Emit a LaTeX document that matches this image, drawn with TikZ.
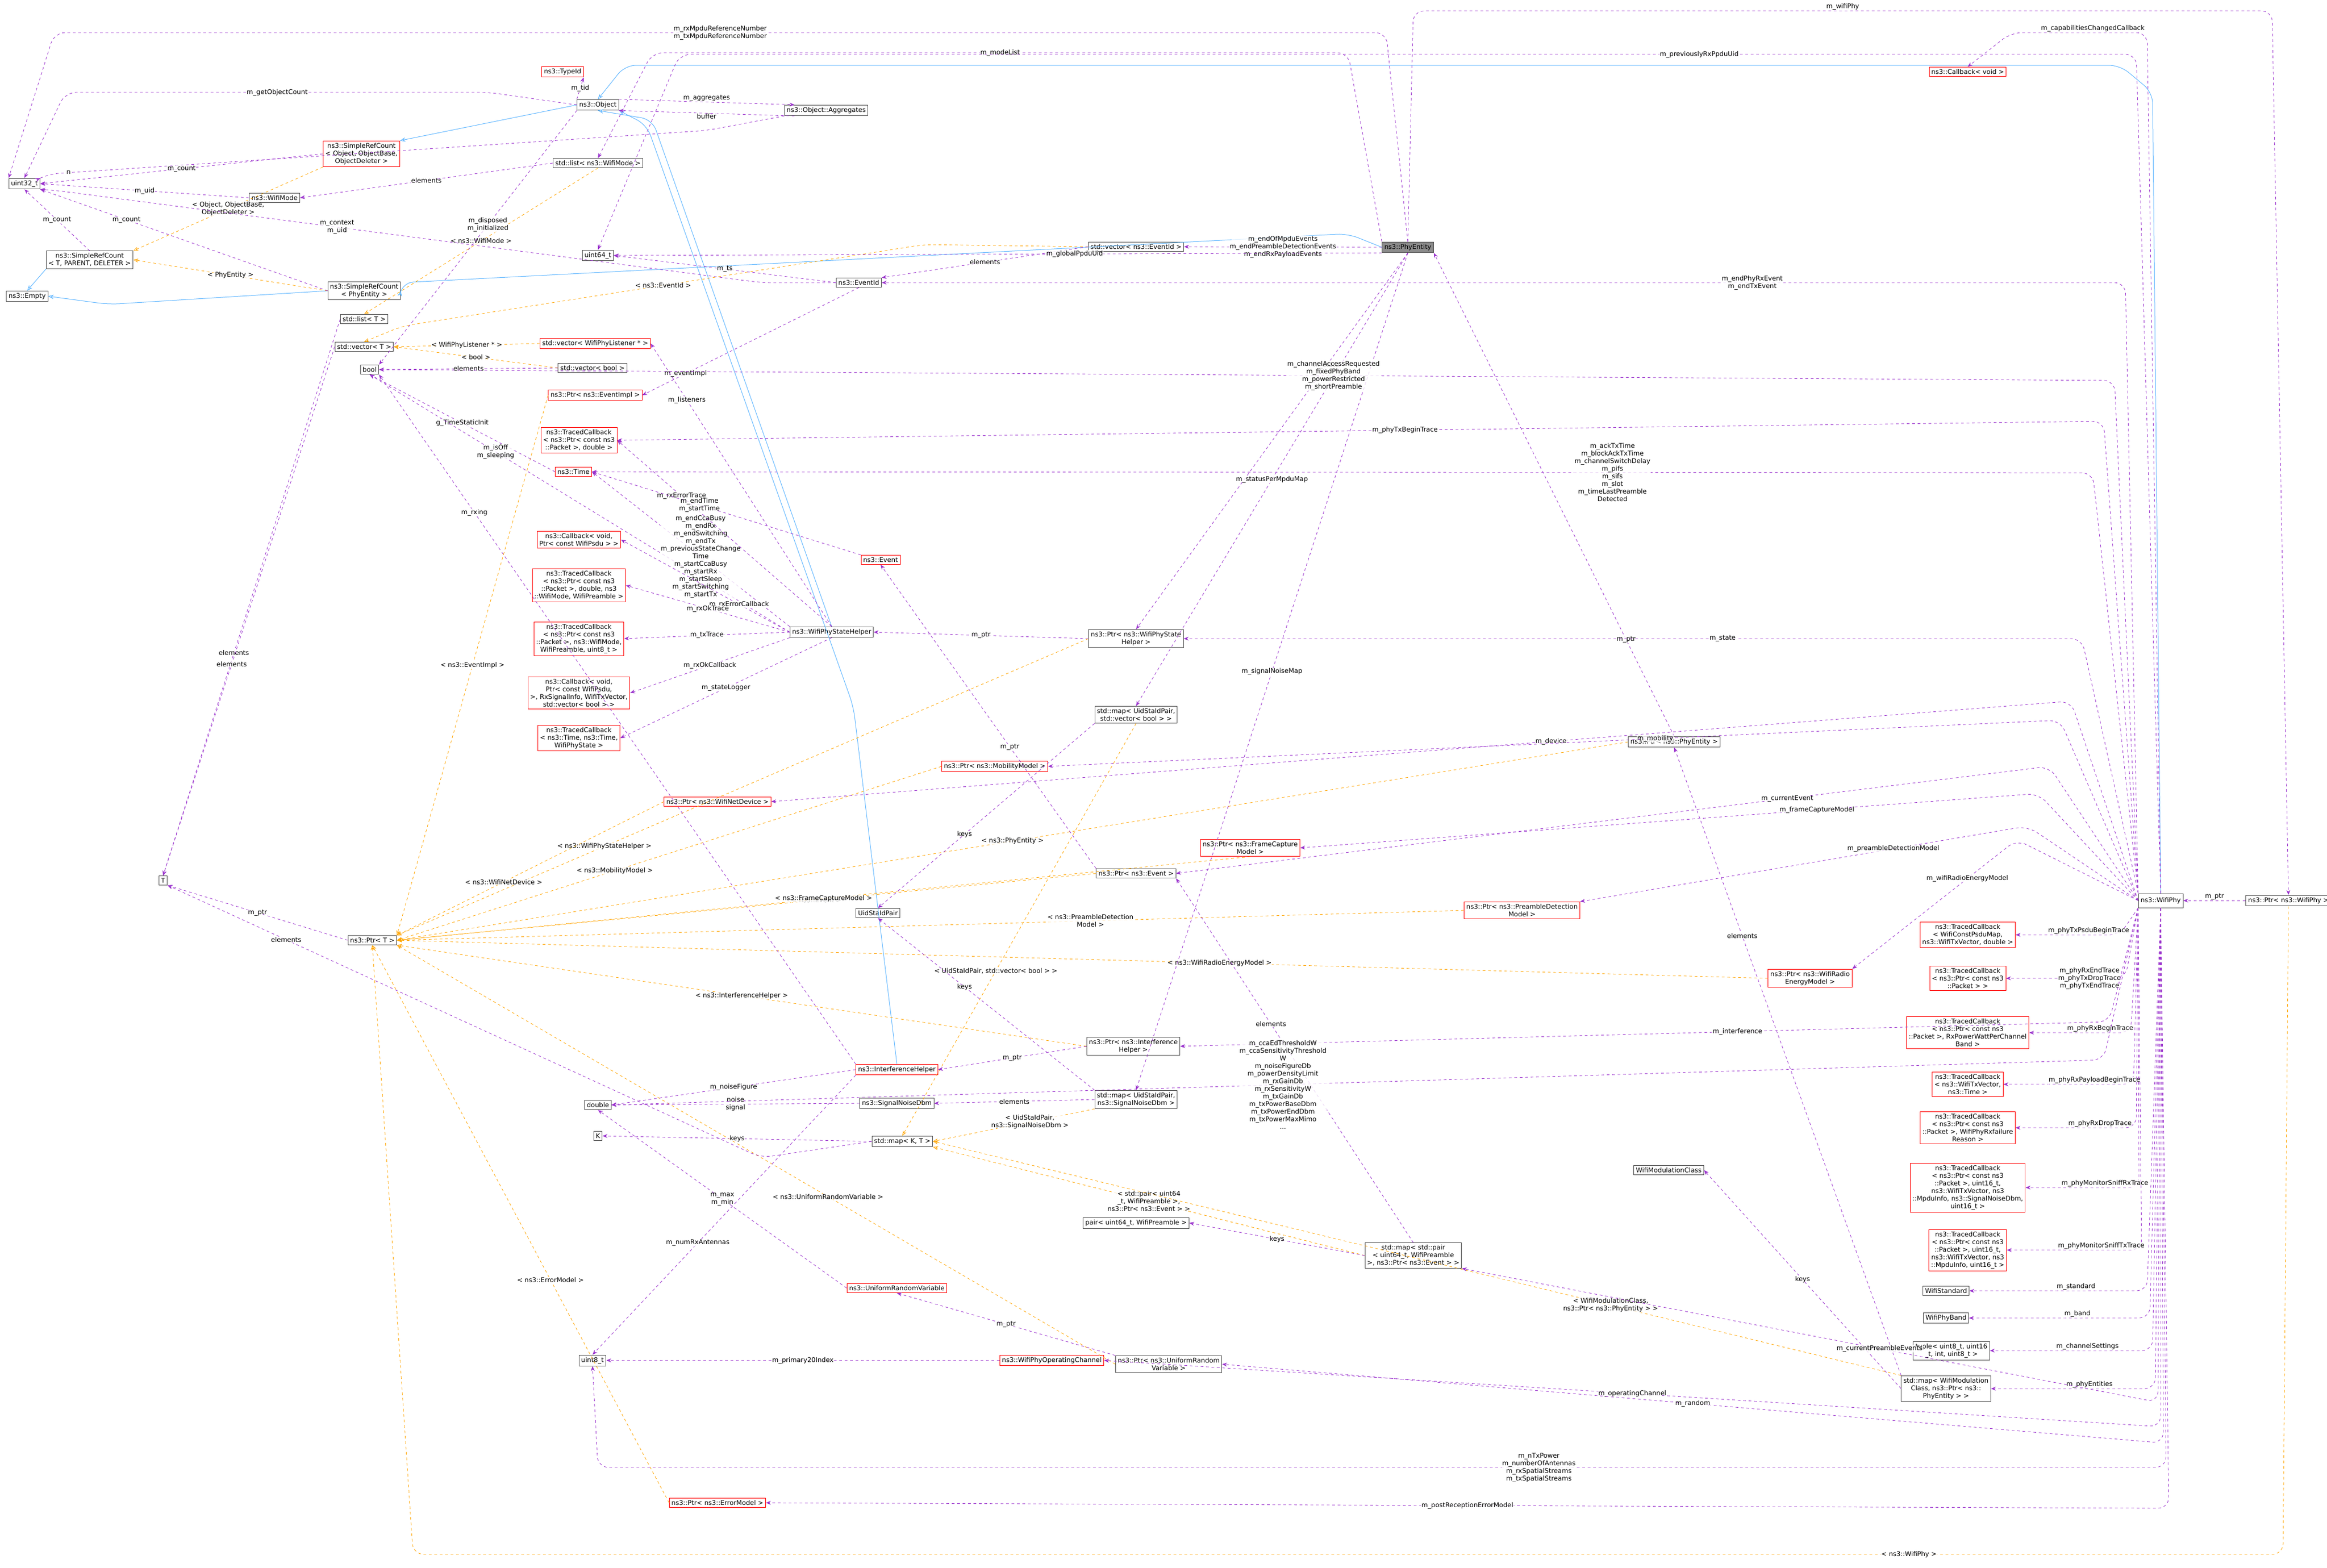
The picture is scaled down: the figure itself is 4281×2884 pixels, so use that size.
\documentclass[tikz,border=0pt]{standalone}
\usepackage{fontspec}
\setmainfont{DejaVu Sans}
\usetikzlibrary{arrows.meta}
\definecolor{rel}{HTML}{9A32CD}
\definecolor{tpl}{HTML}{FFA500}
\definecolor{inh}{HTML}{63B8FF}
\tikzset{
 box/.style={draw=black!70,fill=white,inner sep=1.2pt,line width=0.3pt,align=center,font=\fontsize{3.6}{4.2}\selectfont},
 rbox/.style={box,draw=red},
 root/.style={box,fill=black!45},
 rl/.style={draw=rel,dash pattern=on 1.5pt off 1.5pt,-{Stealth[length=2.7pt,width=2.1pt]},line width=0.25pt,rounded corners=6pt},
 tp/.style={draw=tpl,dash pattern=on 1.5pt off 1.5pt,-{Stealth[length=2.7pt,width=2.1pt,open]},line width=0.25pt,rounded corners=6pt},
 ih/.style={draw=inh,-{Stealth[length=3pt,width=2.4pt,open]},line width=0.3pt,rounded corners=6pt},
 lb/.style={font=\fontsize{3.6}{4.2}\selectfont,align=center,fill=white,fill opacity=0.8,text opacity=1,inner sep=0.3pt}
}
\begin{document}
\begin{tikzpicture}[x=0.3pt,y=-0.3pt]
\useasboundingbox[fill=white] (0,0) rectangle (4281,2884);
% nodes
\node[rbox] (typeid) at (1035,132) {ns3::TypeId};
\node[box] (object) at (1100,193) {ns3::Object};
\node[box] (aggr) at (1520,203) {ns3::Object::Aggregates};
\node[box] (u32) at (45,338) {uint32\_t};
\node[rbox] (srcobj) at (665,283) {ns3::SimpleRefCount\\< Object, ObjectBase,\\ObjectDeleter >};
\node[box] (listmode) at (1100,300) {std::list< ns3::WifiMode >};
\node[box] (wifimode) at (505,364) {ns3::WifiMode};
\node[box] (srct) at (165,478) {ns3::SimpleRefCount\\< T, PARENT, DELETER >};
\node[box] (empty) at (50,545) {ns3::Empty};
\node[box] (srcphy) at (670,535) {ns3::SimpleRefCount\\< PhyEntity >};
\node[box] (listt) at (670,587) {std::list< T >};
\node[box] (vect) at (670,638) {std::vector< T >};
\node[box] (boolx) at (680,680) {bool};
\node[box] (vecbool) at (1090,677) {std::vector< bool >};
\node[rbox] (veclis) at (1095,632) {std::vector< WifiPhyListener * >};
\node[rbox] (ptrevimpl) at (1095,727) {ns3::Ptr< ns3::EventImpl >};
\node[rbox] (tcpd) at (1065,810) {ns3::TracedCallback\\< ns3::Ptr< const ns3\\::Packet >, double >};
\node[rbox] (time) at (1055,868) {ns3::Time};
\node[rbox] (cbpsdu) at (1065,993) {ns3::Callback< void,\\Ptr< const WifiPsdu > >};
\node[rbox] (tcrxok) at (1065,1077) {ns3::TracedCallback\\< ns3::Ptr< const ns3\\::Packet >, double, ns3\\::WifiMode, WifiPreamble >};
\node[rbox] (tctx) at (1065,1175) {ns3::TracedCallback\\< ns3::Ptr< const ns3\\::Packet >, ns3::WifiMode,\\WifiPreamble, uint8\_t >};
\node[rbox] (cbrxok) at (1065,1275) {ns3::Callback< void,\\Ptr< const WifiPsdu,\\>, RxSignalInfo, WifiTxVector,\\std::vector< bool > >};
\node[rbox] (tcstate) at (1065,1358) {ns3::TracedCallback\\< ns3::Time, ns3::Time,\\WifiPhyState >};
\node[rbox] (ptrnet) at (1320,1475) {ns3::Ptr< ns3::WifiNetDevice >};
\node[rbox] (event) at (1620,1030) {ns3::Event};
\node[box] (psh) at (1530,1163) {ns3::WifiPhyStateHelper};
\node[box] (ptrpsh) at (2090,1175) {ns3::Ptr< ns3::WifiPhyState\\Helper >};
\node[box] (mapvb) at (2090,1315) {std::map< UidStaIdPair,\\std::vector< bool > >};
\node[rbox] (ptrmob) at (1830,1410) {ns3::Ptr< ns3::MobilityModel >};
\node[box] (ptrphyent) at (3080,1365) {ns3::Ptr< ns3::PhyEntity >};
\node[box] (ptrevent) at (2090,1607) {ns3::Ptr< ns3::Event >};
\node[rbox] (ptrfcm) at (2300,1560) {ns3::Ptr< ns3::FrameCapture\\Model >};
\node[box] (uidsta) at (1615,1680) {UidStaIdPair};
\node[rbox] (ptrpdm) at (2800,1675) {ns3::Ptr< ns3::PreambleDetection\\Model >};
\node[rbox] (ptrrem) at (3330,1800) {ns3::Ptr< ns3::WifiRadio\\EnergyModel >};
\node[box] (ptrih) at (2085,1925) {ns3::Ptr< ns3::Interference\\Helper >};
\node[rbox] (ih) at (1650,1968) {ns3::InterferenceHelper};
\node[box] (snd) at (1650,2030) {ns3::SignalNoiseDbm};
\node[box] (mapsn) at (2090,2023) {std::map< UidStaIdPair,\\ns3::SignalNoiseDbm >};
\node[box] (dbl) at (1100,2033) {double};
\node[box] (kk) at (1100,2090) {K};
\node[box] (mapkt) at (1660,2100) {std::map< K, T >};
\node[box] (tt) at (300,1620) {T};
\node[box] (ptrt) at (685,1730) {ns3::Ptr< T >};
\node[box] (veceid) at (2090,454) {std::vector< ns3::EventId >};
\node[box] (u64) at (1100,470) {uint64\_t};
\node[box] (eventid) at (1580,520) {ns3::EventId};
\node[root] (phyent) at (2590,455) {ns3::PhyEntity};
\node[box,minimum height=26pt*0.3] (wifiphy) at (3975,1657) {ns3::WifiPhy};
\node[box] (ptrwifiphy) at (4210,1657) {ns3::Ptr< ns3::WifiPhy >};
\node[rbox] (cbvoid) at (3620,132) {ns3::Callback< void >};
\node[box] (wmc) at (3070,2153) {WifiModulationClass};
\node[box] (pairu) at (2090,2250) {pair< uint64\_t, WifiPreamble >};
\node[box] (mappe) at (2600,2310) {std::map< std::pair\\< uint64\_t, WifiPreamble\\>, ns3::Ptr< ns3::Event > >};
\node[rbox] (urv) at (1650,2370) {ns3::UniformRandomVariable};
\node[rbox] (opch) at (1935,2503) {ns3::WifiPhyOperatingChannel};
\node[box] (u8) at (1090,2503) {uint8\_t};
\node[box] (ptrurv) at (2150,2510) {ns3::Ptr< ns3::UniformRandom\\Variable >};
\node[rbox] (ptrerr) at (1320,2765) {ns3::Ptr< ns3::ErrorModel >};
\node[rbox] (tc1) at (3620,1720) {ns3::TracedCallback\\< WifiConstPsduMap,\\ns3::WifiTxVector, double >};
\node[rbox] (tc2) at (3620,1800) {ns3::TracedCallback\\< ns3::Ptr< const ns3\\::Packet > >};
\node[rbox] (tc3) at (3620,1900) {ns3::TracedCallback\\< ns3::Ptr< const ns3\\::Packet >, RxPowerWattPerChannel\\Band >};
\node[rbox] (tc4) at (3620,1995) {ns3::TracedCallback\\< ns3::WifiTxVector,\\ns3::Time >};
\node[rbox] (tc5) at (3620,2075) {ns3::TracedCallback\\< ns3::Ptr< const ns3\\::Packet >, WifiPhyRxfailure\\Reason >};
\node[rbox] (tc6) at (3620,2185) {ns3::TracedCallback\\< ns3::Ptr< const ns3\\::Packet >, uint16\_t,\\ns3::WifiTxVector, ns3\\::MpduInfo, ns3::SignalNoiseDbm,\\uint16\_t >};
\node[rbox] (tc7) at (3620,2300) {ns3::TracedCallback\\< ns3::Ptr< const ns3\\::Packet >, uint16\_t,\\ns3::WifiTxVector, ns3\\::MpduInfo, uint16\_t >};
\node[box] (wstd) at (3580,2375) {WifiStandard};
\node[box] (wband) at (3580,2425) {WifiPhyBand};
\node[box] (tuple) at (3590,2485) {tuple< uint8\_t, uint16\\\_t, int, uint8\_t >};
\node[box] (mapmc) at (3580,2555) {std::map< WifiModulation\\Class, ns3::Ptr< ns3::\\PhyEntity > >};

% inheritance
\draw[ih] (wifiphy.north) -- (3960,170) -- (3900,120) -- (1150,120) -- (object.north);
\draw[ih] (object.west) -- (srcobj.north east);
\draw[ih] (srct.south west) -- (empty.north);
\draw[ih] (srcphy.west) -- (200,560) -- (empty.east);
\draw[ih] (phyent.west) -- (2480,430) -- (740,520) -- (srcphy.east);
\draw[ih] (psh.north) -- (1200,220) -- (object.south);
\draw[ih] (ih.north) -- (1570,1300) -- (1190,230) -- (object.south east);
% templates
\draw[tp] (srcobj.south west) -- node[lb]{< Object, ObjectBase,\\ObjectDeleter >} (srct.north east);
\draw[tp] (srcphy.west) -- node[lb]{< PhyEntity >} (srct.east);
\draw[tp] (listmode.south) -- node[lb,pos=0.5]{< ns3::WifiMode >} (listt.north);
\draw[tp] (veceid.west) -- (1700,450) -- node[lb,pos=0.5]{< ns3::EventId >} (740,600) -- (vect.north);
\draw[tp] (veclis.west) -- node[lb]{< WifiPhyListener * >} (vect.east);
\draw[tp] (vecbool.west) -- node[lb]{< bool >} (vect.east);
\draw[tp] (ptrevimpl.west) -- node[lb,pos=0.5]{< ns3::EventImpl >} (ptrt.north east);
\draw[tp] (ptrpsh.west) -- node[lb,pos=0.7]{< ns3::WifiPhyStateHelper >} (ptrt.north east);
\draw[tp] (ptrnet.west) -- node[lb,pos=0.6]{< ns3::WifiNetDevice >} (ptrt.north east);
\draw[tp] (ptrmob.west) -- node[lb,pos=0.6]{< ns3::MobilityModel >} (ptrt.east);
\draw[tp] (ptrphyent.west) -- node[lb,pos=0.5]{< ns3::PhyEntity >} (ptrt.east);
\draw[tp] (ptrevent.west) -- node[lb,pos=0.4]{< ns3::Event >} (ptrt.east);
\draw[tp] (ptrfcm.south) -- node[lb,pos=0.5]{< ns3::FrameCaptureModel >} (ptrt.east);
\draw[tp] (ptrpdm.west) -- node[lb,pos=0.35]{< ns3::PreambleDetection\\Model >} (ptrt.east);
\draw[tp] (ptrrem.west) -- node[lb,pos=0.4]{< ns3::WifiRadioEnergyModel >} (ptrt.east);
\draw[tp] (ptrih.west) -- node[lb,pos=0.5]{< ns3::InterferenceHelper >} (ptrt.south east);
\draw[tp] (ptrurv.west) -- node[lb,pos=0.4]{< ns3::UniformRandomVariable >} (ptrt.south east);
\draw[tp] (ptrerr.west) -- node[lb,pos=0.4]{< ns3::ErrorModel >} (ptrt.south);
\draw[tp] (ptrwifiphy.south) -- (4200,2860) -- node[lb,pos=0.2]{< ns3::WifiPhy >} (760,2860) -- (ptrt.south);
\draw[tp] (mapvb.south) -- node[lb,pos=0.6]{< UidStaIdPair, std::vector< bool > >} (mapkt.north);
\draw[tp] (mapsn.south west) -- node[lb,pos=0.4]{< UidStaIdPair,\\ns3::SignalNoiseDbm >} (mapkt.east);
\draw[tp] (mappe.west) -- node[lb,pos=0.5]{< std::pair< uint64\\\_t, WifiPreamble >,\\ns3::Ptr< ns3::Event > >} (mapkt.south east);
\draw[tp] (mapmc.north west) -- node[lb,pos=0.3]{< WifiModulationClass,\\ns3::Ptr< ns3::PhyEntity > >} (mapkt.east);
% members
\draw[rl] (object.north west) -- node[lb]{m\_tid} (typeid.south east);
\draw[rl] (object.15) -- node[lb,above]{m\_aggregates} (aggr.170);
\draw[rl] (aggr.190) -- node[lb,below]{buffer} (object.-15);
\draw[rl] (object.west) -- (900,170) -- node[lb,pos=0.5]{m\_getObjectCount} (120,170) -- (u32.north);
\draw[rl] (aggr.south west) -- (1300,240) -- node[lb,pos=0.97]{n} (90,320) -- (u32.north east);
\draw[rl] (srcobj.west) -- node[lb]{m\_count} (u32.east);
\draw[rl] (wifimode.west) -- node[lb]{m\_uid} (u32.east);
\draw[rl] (srct.north) -- node[lb]{m\_count} (u32.south);
\draw[rl] (srcphy.west) -- node[lb,pos=0.7]{m\_count} (u32.south east);
\draw[rl] (object.south west) -- node[lb,pos=0.45]{m\_disposed\\m\_initialized} (boolx.north east);
\draw[rl] (listmode.west) -- node[lb]{elements} (wifimode.east);
\draw[rl] (listt.west) -- node[lb,pos=0.6]{elements} (tt.north);
\draw[rl] (vect.west) -- node[lb,pos=0.6]{elements} (tt.north);
\draw[rl] (vecbool.west) -- node[lb]{elements} (boolx.east);
\draw[rl] (veceid.west) -- node[lb]{elements} (eventid.north east);
\draw[rl] (eventid.west) -- node[lb]{m\_ts} (u64.east);
\draw[rl] (eventid.west) -- (1400,520) -- node[lb,pos=0.6]{m\_context\\m\_uid} (100,350) -- (u32.south east);
\draw[rl] (eventid.south) -- node[lb,pos=0.8]{m\_eventImpl} (ptrevimpl.east);
\draw[rl] (ptrt.west) -- node[lb]{m\_ptr} (tt.south east);
\draw[rl] (time.west) -- node[lb]{g\_TimeStaticInit} (boolx.south);
\draw[rl] (psh.north) -- node[lb,pos=0.8]{m\_listeners} (veclis.east);
\draw[rl] (psh.west) -- node[lb,pos=0.7]{m\_isOff\\m\_sleeping} (boolx.south);
\draw[rl] (psh.north west) -- node[lb,pos=0.45]{m\_endCcaBusy\\m\_endRx\\m\_endSwitching\\m\_endTx\\m\_previousStateChange\\Time\\m\_startCcaBusy\\m\_startRx\\m\_startSleep\\m\_startSwitching\\m\_startTx} (time.east);
\draw[rl] (psh.west) -- node[lb,pos=0.3]{m\_rxErrorCallback} (cbpsdu.east);
\draw[rl] (psh.west) -- node[lb]{m\_rxOkTrace} (tcrxok.east);
\draw[rl] (psh.west) -- node[lb]{m\_txTrace} (tctx.east);
\draw[rl] (psh.south west) -- node[lb]{m\_rxOkCallback} (cbrxok.east);
\draw[rl] (psh.south) -- node[lb]{m\_stateLogger} (tcstate.east);
\draw[rl] (psh.north) -- node[lb,pos=0.7]{m\_rxErrorTrace} (tcpd.east);
\draw[rl] (event.north west) -- node[lb,pos=0.6]{m\_endTime\\m\_startTime} (time.east);
\draw[rl] (ptrevent.north west) -- node[lb,pos=0.4]{m\_ptr} (event.south);
\draw[rl] (ptrpsh.west) -- node[lb]{m\_ptr} (psh.east);
\draw[rl] (ptrphyent.north) -- node[lb,pos=0.2]{m\_ptr} (phyent.south east);
\draw[rl] (mapvb.south west) -- node[lb,pos=0.6]{keys} (uidsta.north);
\draw[rl] (ptrih.west) -- node[lb]{m\_ptr} (ih.east);
\draw[rl] (ih.west) -- node[lb]{m\_noiseFigure} (dbl.east);
\draw[rl] (ih.north west) -- node[lb,pos=0.8]{m\_rxing} (boolx.south east);
\draw[rl] (ih.south west) -- node[lb,pos=0.6]{m\_numRxAntennas} (u8.north);
\draw[rl] (mapsn.west) -- node[lb]{elements} (snd.east);
\draw[rl] (mapsn.north west) -- node[lb,pos=0.6]{keys} (uidsta.south);
\draw[rl] (snd.west) -- node[lb]{noise\\signal} (dbl.east);
\draw[rl] (mapkt.west) -- node[lb]{keys} (kk.east);
\draw[rl] (mapkt.west) -- (1400,2130) -- node[lb,pos=0.8]{elements} (tt.south east);
\draw[rl] (urv.west) -- node[lb]{m\_max\\m\_min} (dbl.south);
\draw[rl] (ptrurv.north west) -- node[lb]{m\_ptr} (urv.south);
\draw[rl] (opch.west) -- node[lb]{m\_primary20Index} (u8.east);
\draw[rl] (mappe.west) -- node[lb]{keys} (pairu.east);
\draw[rl] (mappe.north) -- node[lb,pos=0.6]{elements} (ptrevent.south east);
\draw[rl] (mapmc.west) -- node[lb]{keys} (wmc.east);
\draw[rl] (mapmc.north west) -- node[lb,pos=0.7]{elements} (ptrphyent.south);
\draw[rl] (ptrwifiphy.west) -- node[lb,above]{m\_ptr} (wifiphy.east);
% PhyEntity members
\draw[rl] (phyent.north) -- (2600,20) -- node[lb,above]{m\_wifiPhy} (4180,20) -- (ptrwifiphy.north);
\draw[rl] (phyent.north) -- (2550,60) -- node[lb,pos=0.5]{m\_rxMpduReferenceNumber\\m\_txMpduReferenceNumber} (100,60) -- (u32.north west);
\draw[rl] (phyent.north west) -- (2480,97) -- node[lb,pos=0.5]{m\_modeList} (1200,97) -- (listmode.north);
\draw[rl] (phyent.west) -- node[lb]{m\_endOfMpduEvents\\m\_endPreambleDetectionEvents\\m\_endRxPayloadEvents} (veceid.east);
\draw[rl] (phyent.south west) -- node[lb,pos=0.4]{m\_globalPpduUid} (u64.east);
\draw[rl] (phyent.south) -- node[lb,pos=0.3]{m\_state} (ptrpsh.north);
\draw[rl] (phyent.south) -- node[lb,pos=0.5]{m\_statusPerMpduMap} (mapvb.north);
\draw[rl] (phyent.south) -- node[lb,pos=0.5]{m\_signalNoiseMap} (mapsn.north);
% WifiPhy members
\draw[rl] (wifiphy.north) -- (3950,60) -- node[lb,pos=0.4,above]{m\_capabilitiesChangedCallback} (3700,60) -- (cbvoid.north);
\draw[rl] (wifiphy.north) -- (3930,100) -- node[lb,pos=0.3]{m\_previouslyRxPpduUid} (1250,100) -- (u64.north);
\draw[rl] (wifiphy.north west) -- (3910,520) -- node[lb,pos=0.3]{m\_endPhyRxEvent\\m\_endTxEvent} (eventid.east);
\draw[rl] (wifiphy.north west) -- (3890,700) -- node[lb,pos=0.45]{m\_channelAccessRequested\\m\_fixedPhyBand\\m\_powerRestricted\\m\_shortPreamble} (boolx.east);
\draw[rl] (wifiphy.north west) -- (3870,775) -- node[lb,pos=0.47]{m\_phyTxBeginTrace} (tcpd.east);
\draw[rl] (wifiphy.north west) -- (3850,870) -- node[lb,pos=0.32]{m\_ackTxTime\\m\_blockAckTxTime\\m\_channelSwitchDelay\\m\_pifs\\m\_sifs\\m\_slot\\m\_timeLastPreamble\\Detected} (time.east);
\draw[rl] (wifiphy.north west) -- (3830,1175) -- node[lb,pos=0.4]{m\_state} (ptrpsh.east);
\draw[rl] (wifiphy.west) -- (3810,1290) -- node[lb,pos=0.4]{m\_device} (ptrnet.east);
\draw[rl] (wifiphy.west) -- (3790,1325) -- node[lb,pos=0.4]{m\_mobility} (ptrmob.east);
\draw[rl] (wifiphy.west) -- (3770,1410) -- node[lb,pos=0.3]{m\_currentEvent} (ptrevent.east);
\draw[rl] (wifiphy.west) -- (3750,1460) -- node[lb,pos=0.3]{m\_frameCaptureModel} (ptrfcm.east);
\draw[rl] (wifiphy.west) -- (3730,1520) -- node[lb,pos=0.3]{m\_preambleDetectionModel} (ptrpdm.north east);
\draw[rl] (wifiphy.west) -- (3710,1545) -- node[lb,pos=0.3]{m\_wifiRadioEnergyModel} (ptrrem.north east);
\draw[rl] (wifiphy.south west) -- (3900,1720) -- node[lb,pos=0.3,above]{m\_phyTxPsduBeginTrace} (tc1.east);
\draw[rl] (wifiphy.south west) -- (3910,1800) -- node[lb,pos=0.3]{m\_phyRxEndTrace\\m\_phyTxDropTrace\\m\_phyTxEndTrace} (tc2.east);
\draw[rl] (wifiphy.south west) -- (3920,1900) -- node[lb,pos=0.3,above]{m\_phyRxBeginTrace} (tc3.east);
\draw[rl] (wifiphy.south west) -- (3925,1995) -- node[lb,pos=0.3,above]{m\_phyRxPayloadBeginTrace} (tc4.east);
\draw[rl] (wifiphy.south west) -- (3930,2075) -- node[lb,pos=0.3,above]{m\_phyRxDropTrace} (tc5.east);
\draw[rl] (wifiphy.south west) -- (3935,2185) -- node[lb,pos=0.3,above]{m\_phyMonitorSniffRxTrace} (tc6.east);
\draw[rl] (wifiphy.south west) -- (3940,2300) -- node[lb,pos=0.3,above]{m\_phyMonitorSniffTxTrace} (tc7.east);
\draw[rl] (wifiphy.south) -- (3950,2375) -- node[lb,pos=0.4,above]{m\_standard} (wstd.east);
\draw[rl] (wifiphy.south) -- (3955,2425) -- node[lb,pos=0.4,above]{m\_band} (wband.east);
\draw[rl] (wifiphy.south) -- (3960,2485) -- node[lb,pos=0.4,above]{m\_channelSettings} (tuple.east);
\draw[rl] (wifiphy.south) -- (3965,2555) -- node[lb,pos=0.4,above]{m\_phyEntities} (mapmc.east);
\draw[rl] (wifiphy.south west) -- (3880,1880) -- node[lb,pos=0.4]{m\_interference} (ptrih.east);
\draw[rl] (wifiphy.south west) -- (3870,1950) -- node[lb,pos=0.55]{m\_ccaEdThresholdW\\m\_ccaSensitivityThreshold\\W\\m\_noiseFigureDb\\m\_powerDensityLimit\\m\_rxGainDb\\m\_rxSensitivityW\\m\_txGainDb\\m\_txPowerBaseDbm\\m\_txPowerEndDbm\\m\_txPowerMaxMimo\\...} (dbl.east);
\draw[rl] (wifiphy.south) -- (3970,2580) -- node[lb,pos=0.4]{m\_currentPreambleEvents} (mappe.south east);
\draw[rl] (wifiphy.south) -- (3975,2625) -- node[lb,pos=0.5]{m\_operatingChannel} (opch.east);
\draw[rl] (wifiphy.south) -- (3980,2655) -- node[lb,pos=0.5]{m\_random} (ptrurv.east);
\draw[rl] (wifiphy.south) -- (3985,2700) -- node[lb,pos=0.4]{m\_nTxPower\\m\_numberOfAntennas\\m\_rxSpatialStreams\\m\_txSpatialStreams} (1100,2700) -- (u8.south);
\draw[rl] (wifiphy.south) -- (3990,2775) -- node[lb,pos=0.5]{m\_postReceptionErrorModel} (ptrerr.east);
\end{tikzpicture}
\end{document}
